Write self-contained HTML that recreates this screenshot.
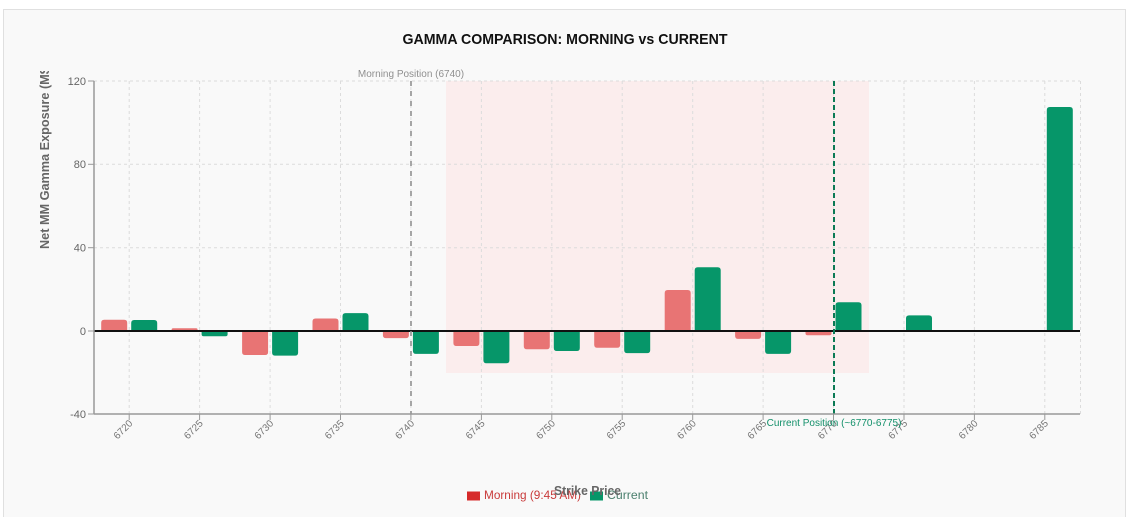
<!DOCTYPE html>
<html>
<head>
<meta charset="utf-8">
<style>
  html,body{margin:0;padding:0;background:#ffffff;}
  svg{display:block;font-family:"Liberation Sans",Arial,sans-serif;}
</style>
</head>
<body>
<svg width="1136" height="517" viewBox="0 0 1136 517" xmlns="http://www.w3.org/2000/svg">
  <defs>
    <clipPath id="ytclip"><rect x="0" y="71" width="100" height="300"/></clipPath>
  </defs>
  <!-- card -->
  <rect x="3.5" y="9.5" width="1122" height="520" fill="#f9f9f9" stroke="#e0e0e0" stroke-width="1"/>

  <!-- title -->
  <text x="565" y="44" text-anchor="middle" font-size="15" font-weight="bold" fill="#111" textLength="325" lengthAdjust="spacingAndGlyphs">GAMMA COMPARISON: MORNING vs CURRENT</text>

  <!-- highlight band -->
  <rect x="446" y="81" width="423" height="292" fill="#fbeded"/>

  <!-- grid -->
  <g stroke="#dcdcdc" stroke-dasharray="3 3" stroke-width="1">
    <line x1="94" y1="81" x2="1080" y2="81"/>
    <line x1="94" y1="164.3" x2="1080" y2="164.3"/>
    <line x1="94" y1="247.7" x2="1080" y2="247.7"/>
    <line x1="129.2" y1="81" x2="129.2" y2="414"/>
    <line x1="199.6" y1="81" x2="199.6" y2="414"/>
    <line x1="270.1" y1="81" x2="270.1" y2="414"/>
    <line x1="340.5" y1="81" x2="340.5" y2="414"/>
    <line x1="410.9" y1="81" x2="410.9" y2="414"/>
    <line x1="481.4" y1="81" x2="481.4" y2="414"/>
    <line x1="551.8" y1="81" x2="551.8" y2="414"/>
    <line x1="622.2" y1="81" x2="622.2" y2="414"/>
    <line x1="692.7" y1="81" x2="692.7" y2="414"/>
    <line x1="763.1" y1="81" x2="763.1" y2="414"/>
    <line x1="833.5" y1="81" x2="833.5" y2="414"/>
    <line x1="904.0" y1="81" x2="904.0" y2="414"/>
    <line x1="974.4" y1="81" x2="974.4" y2="414"/>
    <line x1="1044.8" y1="81" x2="1044.8" y2="414"/>
    <line x1="1080.5" y1="81" x2="1080.5" y2="414"/>
  </g>

  <!-- morning bars -->
  <g fill="#e87474">
    <path d="M101.2,331 V322.8 Q101.2,319.8 104.2,319.8 H124.2 Q127.2,319.8 127.2,322.8 V331 Z"/>
    <path d="M171.6,331 V329.8 Q171.6,328.3 173.1,328.3 H196.1 Q197.6,328.3 197.6,329.8 V331 Z"/>
    <path d="M242.1,331 V352 Q242.1,355 245.1,355 H265.1 Q268.1,355 268.1,352 V331 Z"/>
    <path d="M312.5,331 V321.5 Q312.5,318.5 315.5,318.5 H335.5 Q338.5,318.5 338.5,321.5 V331 Z"/>
    <path d="M382.9,331 V335.1 Q382.9,338.1 385.9,338.1 H405.9 Q408.9,338.1 408.9,335.1 V331 Z"/>
    <path d="M453.4,331 V343 Q453.4,346 456.4,346 H476.4 Q479.4,346 479.4,343 V331 Z"/>
    <path d="M523.8,331 V346.3 Q523.8,349.3 526.8,349.3 H546.8 Q549.8,349.3 549.8,346.3 V331 Z"/>
    <path d="M594.2,331 V344.7 Q594.2,347.7 597.2,347.7 H617.2 Q620.2,347.7 620.2,344.7 V331 Z"/>
    <path d="M664.7,331 V293 Q664.7,290 667.7,290 H687.7 Q690.7,290 690.7,293 V331 Z"/>
    <path d="M735.1,331 V335.9 Q735.1,338.9 738.1,338.9 H758.1 Q761.1,338.9 761.1,335.9 V331 Z"/>
    <path d="M805.5,331 V333.2 Q805.5,335.2 807.5,335.2 H829.5 Q831.5,335.2 831.5,333.2 V331 Z"/>
  </g>

  <!-- current bars -->
  <g fill="#069669">
    <path d="M131.2,331 V323 Q131.2,320 134.2,320 H154.2 Q157.2,320 157.2,323 V331 Z"/>
    <path d="M201.6,331 V334.2 Q201.6,336.2 203.6,336.2 H225.6 Q227.6,336.2 227.6,334.2 V331 Z"/>
    <path d="M272.1,331 V352.6 Q272.1,355.6 275.1,355.6 H295.1 Q298.1,355.6 298.1,352.6 V331 Z"/>
    <path d="M342.5,331 V316.1 Q342.5,313.1 345.5,313.1 H365.5 Q368.5,313.1 368.5,316.1 V331 Z"/>
    <path d="M412.9,331 V350.9 Q412.9,353.9 415.9,353.9 H435.9 Q438.9,353.9 438.9,350.9 V331 Z"/>
    <path d="M483.4,331 V360.3 Q483.4,363.3 486.4,363.3 H506.4 Q509.4,363.3 509.4,360.3 V331 Z"/>
    <path d="M553.8,331 V348 Q553.8,351 556.8,351 H576.8 Q579.8,351 579.8,348 V331 Z"/>
    <path d="M624.2,331 V350.1 Q624.2,353.1 627.2,353.1 H647.2 Q650.2,353.1 650.2,350.1 V331 Z"/>
    <path d="M694.7,331 V270.3 Q694.7,267.3 697.7,267.3 H717.7 Q720.7,267.3 720.7,270.3 V331 Z"/>
    <path d="M765.1,331 V350.9 Q765.1,353.9 768.1,353.9 H788.1 Q791.1,353.9 791.1,350.9 V331 Z"/>
    <path d="M835.5,331 V305.3 Q835.5,302.3 838.5,302.3 H858.5 Q861.5,302.3 861.5,305.3 V331 Z"/>
    <path d="M906,331 V318.4 Q906,315.4 909,315.4 H929 Q932,315.4 932,318.4 V331 Z"/>
    <path d="M1046.8,331 V110 Q1046.8,107 1049.8,107 H1069.8 Q1072.8,107 1072.8,110 V331 Z"/>
  </g>

  <!-- zero line -->
  <line x1="94" y1="331" x2="1080" y2="331" stroke="#111" stroke-width="2"/>

  <!-- reference lines -->
  <line x1="411" y1="81" x2="411" y2="414" stroke="#8a8a8a" stroke-width="1.5" stroke-dasharray="5 5"/>
  <text x="411" y="77" text-anchor="middle" font-size="10" fill="#8f8f8f">Morning Position (6740)</text>
  <line x1="834" y1="81" x2="834" y2="414" stroke="#0b7a55" stroke-width="2" stroke-dasharray="5 3"/>

  <!-- axes -->
  <line x1="94" y1="81" x2="94" y2="414" stroke="#999" stroke-width="1.5"/>
  <line x1="94" y1="414" x2="1080" y2="414" stroke="#999" stroke-width="1.5"/>

  <!-- y ticks -->
  <g stroke="#999" stroke-width="1">
    <line x1="88" y1="81" x2="94" y2="81"/>
    <line x1="88" y1="164.3" x2="94" y2="164.3"/>
    <line x1="88" y1="247.7" x2="94" y2="247.7"/>
    <line x1="88" y1="331" x2="94" y2="331"/>
    <line x1="88" y1="414" x2="94" y2="414"/>
  </g>
  <g font-size="11" fill="#666" text-anchor="end">
    <text x="86" y="85">120</text>
    <text x="86" y="168">80</text>
    <text x="86" y="251.5">40</text>
    <text x="86" y="335">0</text>
    <text x="86" y="418">-40</text>
  </g>

  <!-- x ticks -->
  <g stroke="#999" stroke-width="1">
    <line x1="129.2" y1="414" x2="129.2" y2="420"/>
    <line x1="199.6" y1="414" x2="199.6" y2="420"/>
    <line x1="270.1" y1="414" x2="270.1" y2="420"/>
    <line x1="340.5" y1="414" x2="340.5" y2="420"/>
    <line x1="410.9" y1="414" x2="410.9" y2="420"/>
    <line x1="481.4" y1="414" x2="481.4" y2="420"/>
    <line x1="551.8" y1="414" x2="551.8" y2="420"/>
    <line x1="622.2" y1="414" x2="622.2" y2="420"/>
    <line x1="692.7" y1="414" x2="692.7" y2="420"/>
    <line x1="763.1" y1="414" x2="763.1" y2="420"/>
    <line x1="833.5" y1="414" x2="833.5" y2="420"/>
    <line x1="904.0" y1="414" x2="904.0" y2="420"/>
    <line x1="974.4" y1="414" x2="974.4" y2="420"/>
    <line x1="1044.8" y1="414" x2="1044.8" y2="420"/>
  </g>
  <g font-size="10" fill="#777" text-anchor="end">
    <text transform="translate(133.2,424) rotate(-45)">6720</text>
    <text transform="translate(203.6,424) rotate(-45)">6725</text>
    <text transform="translate(274.1,424) rotate(-45)">6730</text>
    <text transform="translate(344.5,424) rotate(-45)">6735</text>
    <text transform="translate(414.9,424) rotate(-45)">6740</text>
    <text transform="translate(485.4,424) rotate(-45)">6745</text>
    <text transform="translate(555.8,424) rotate(-45)">6750</text>
    <text transform="translate(626.2,424) rotate(-45)">6755</text>
    <text transform="translate(696.7,424) rotate(-45)">6760</text>
    <text transform="translate(767.1,424) rotate(-45)">6765</text>
    <text transform="translate(837.5,424) rotate(-45)">6770</text>
    <text transform="translate(908.0,424) rotate(-45)">6775</text>
    <text transform="translate(978.4,424) rotate(-45)">6780</text>
    <text transform="translate(1048.8,424) rotate(-45)">6785</text>
  </g>

  <!-- current position label -->
  <text x="834" y="426" text-anchor="middle" font-size="10" fill="#13906a">Current Position (~6770-6775)</text>

  <!-- y axis title -->
  <g clip-path="url(#ytclip)">
    <text transform="translate(49,249) rotate(-90)" font-size="13" font-weight="bold" fill="#666" textLength="186" lengthAdjust="spacingAndGlyphs">Net MM Gamma Exposure (M$)</text>
  </g>

  <!-- legend -->
  <rect x="467" y="491.5" width="13" height="9" fill="#d62a2a"/>
  <text x="484" y="499" font-size="12" fill="#c93a3a" textLength="97" lengthAdjust="spacingAndGlyphs">Morning (9:45 AM)</text>
  <rect x="590" y="491.5" width="13" height="9" fill="#069669"/>
  <text x="607" y="499" font-size="12" fill="#4a7f6d" textLength="41" lengthAdjust="spacingAndGlyphs">Current</text>

  <!-- x axis title -->
  <text x="587.5" y="495" text-anchor="middle" font-size="13" font-weight="bold" fill="#666" textLength="67" lengthAdjust="spacingAndGlyphs">Strike Price</text>
</svg>
</body>
</html>
